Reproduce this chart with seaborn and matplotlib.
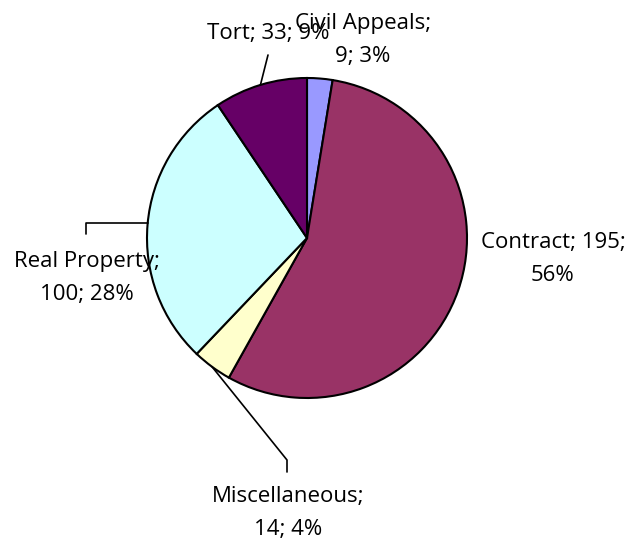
import numpy as np
import seaborn as sns
import matplotlib.pyplot as plt

sns.set_theme(style="white")
plt.rcParams['font.family'] = ['Open Sans', 'DejaVu Sans']

categories = ['Civil Appeals', 'Contract', 'Miscellaneous', 'Real Property', 'Tort']
counts = [9, 195, 14, 100, 33]
colors = ['#9999FF', '#993366', '#FFFFCC', '#CCFFFF', '#660066']

W, H = 631, 539
cx, cy, r = 307, 238, 160

fig = plt.figure(figsize=(W / 100, H / 100), dpi=100)
ax = fig.add_axes([0, 0, 1, 1])

ax.pie(counts, colors=sns.color_palette(colors), startangle=90, counterclock=False,
       center=(cx, H - cy), radius=r, frame=True,
       wedgeprops=dict(edgecolor='black', linewidth=1.5))
ax.set_xlim(0, W)
ax.set_ylim(0, H)
ax.set_aspect('equal')
ax.axis('off')

total = sum(counts)

def edge(angle_deg):
    a = np.deg2rad(angle_deg)
    return cx + r * np.cos(a), H - (cy - r * np.sin(a))

# mid angles of each wedge (clockwise from 12 o'clock)
cum = np.cumsum([0] + counts)
mids = [90 - 360 * (cum[i] + cum[i + 1]) / 2 / total for i in range(len(counts))]

fs = 16
def put(x, y, lines):
    ax.text(x, H - y, "\n".join(lines), ha='center', va='center', fontsize=fs,
            linespacing=1.8, color='black')

def lab(i):
    return categories[i], counts[i], round(100 * counts[i] / total)

c, n, p = lab(0)
put(363, 40, [f"{c};", f"{n}; {p}%"])
c, n, p = lab(1)
put(553, 259, [f"{c}; {n};", f"{p}%"])
c, n, p = lab(2)
put(288, 513, [f"{c};", f"{n}; {p}%"])
c, n, p = lab(3)
put(87, 278, [f"{c};", f"{n}; {p}%"])
c, n, p = lab(4)
put(268, 34, [f"{c}; {n}; {p}%"])

lk = dict(color='black', linewidth=1.2)
# Miscellaneous leader
x0, y0 = edge(mids[2])
ax.plot([x0, 287, 287], [y0, H - 460, H - 472], **lk)
# Real Property leader
ang = np.rad2deg(np.pi - np.arcsin((238 - 223) / r))
x0, y0 = edge(ang)
ax.plot([x0, 86, 86], [y0, H - 223, H - 234], **lk)
# Tort leader
x0, y0 = edge(mids[4])
ax.plot([x0, 268], [y0, H - 55], **lk)

fig.savefig('out.png', dpi=100)
